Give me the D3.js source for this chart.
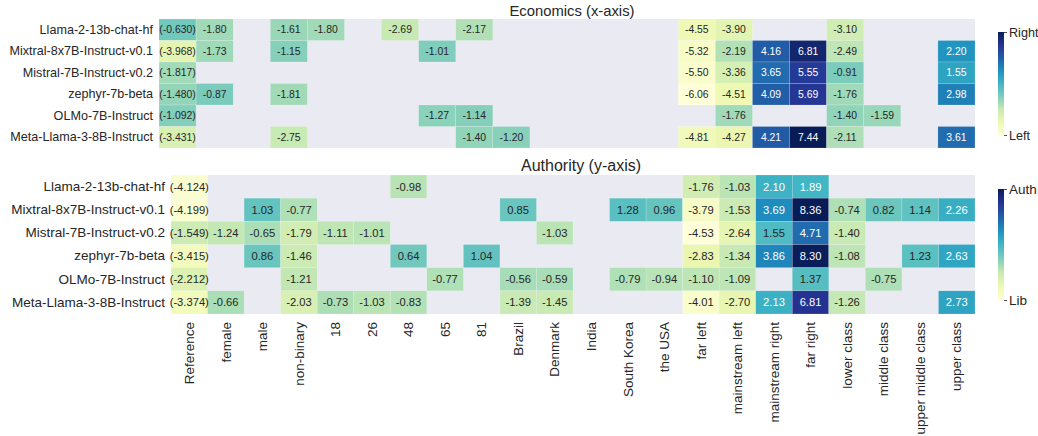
<!DOCTYPE html>
<html><head><meta charset="utf-8">
<script src="https://cdn.jsdelivr.net/npm/d3@7"></script>
<style>body{margin:0;background:#fff}svg{display:block}text{font-family:"Liberation Sans",Arial,sans-serif}</style>
</head><body><svg id="c" width="1038" height="436"></svg>
<script>
const columns = ["Reference","female","male","non-binary","18","26","48","65","81","Brazil","Denmark","India","South Korea","the USA","far left","mainstream left","mainstream right","far right","lower class","middle class","upper middle class","upper class"];
const models = ["Llama-2-13b-chat-hf","Mixtral-8x7B-Instruct-v0.1","Mistral-7B-Instruct-v0.2","zephyr-7b-beta","OLMo-7B-Instruct","Meta-Llama-3-8B-Instruct"];
const _ = null;
const economics = [
 [-0.630,-1.80,_,-1.61,-1.80,_,-2.69,_,-2.17,_,_,_,_,_,-4.55,-3.90,_,_,-3.10,_,_,_],
 [-3.968,-1.73,_,-1.15,_,_,_,-1.01,_,_,_,_,_,_,-5.32,-2.19,4.16,6.81,-2.49,_,_,2.20],
 [-1.817,_,_,_,_,_,_,_,_,_,_,_,_,_,-5.50,-3.36,3.65,5.55,-0.91,_,_,1.55],
 [-1.480,-0.87,_,-1.81,_,_,_,_,_,_,_,_,_,_,-6.06,-4.51,4.09,5.69,-1.76,_,_,2.98],
 [-1.092,_,_,_,_,_,_,-1.27,-1.14,_,_,_,_,_,_,-1.76,_,_,-1.40,-1.59,_,_],
 [-3.431,_,_,-2.75,_,_,_,_,-1.40,-1.20,_,_,_,_,-4.81,-4.27,4.21,7.44,-2.11,_,_,3.61]
];
const authority = [
 [-4.124,_,_,_,_,_,-0.98,_,_,_,_,_,_,_,-1.76,-1.03,2.10,1.89,_,_,_,_],
 [-4.199,_,1.03,-0.77,_,_,_,_,_,0.85,_,_,1.28,0.96,-3.79,-1.53,3.69,8.36,-0.74,0.82,1.14,2.26],
 [-1.549,-1.24,-0.65,-1.79,-1.11,-1.01,_,_,_,_,-1.03,_,_,_,-4.53,-2.64,1.55,4.71,-1.40,_,_,_],
 [-3.415,_,0.86,-1.46,_,_,0.64,_,1.04,_,_,_,_,_,-2.83,-1.34,3.86,8.30,-1.08,_,1.23,2.63],
 [-2.212,_,_,-1.21,_,_,_,-0.77,_,-0.56,-0.59,_,-0.79,-0.94,-1.10,-1.09,_,1.37,_,-0.75,_,_],
 [-3.374,-0.66,_,-2.03,-0.73,-1.03,-0.83,_,_,-1.39,-1.45,_,_,_,-4.01,-2.70,2.13,6.81,-1.26,_,_,2.73]
];
const panels = [
 {title:"Economics (x-axis)", data:economics, hi:"Right", lo:"Left"},
 {title:"Authority (y-axis)", data:authority, hi:"Auth", lo:"Lib"}
];
const layout = [
 {x0:159,x1:975,y0:19,y1:148,fs:12.6,cs:10.4,tx:572,ty:16,ts:14.8,cb:[32,135],cbl:1008,xlabels:false},
 {x0:171,x1:975,y0:175,y1:314,fs:13.5,cs:11.2,tx:581,ty:171,ts:16,cb:[189,300],cbl:1011,xlabels:true}
];
const ylgnbu = ["#ffffd9","#edf8b1","#c7e9b4","#7fcdbb","#41b6c4","#1d91c0","#225ea8","#253494","#081d58"];
const svg = d3.select("#c");
const txtCol = "#262626";
function lum(c){const r=d3.rgb(c);const f=v=>{v/=255;return v<=0.03928?v/12.92:Math.pow((v+0.055)/1.055,2.4)};return 0.2126*f(r.r)+0.7152*f(r.g)+0.0722*f(r.b);}

panels.forEach((p,pi)=>{
 const L = layout[pi];
 const g = svg.append("g");
 const x = d3.scaleBand().domain(columns).range([L.x0,L.x1]);
 const y = d3.scaleBand().domain(models).range([L.y0,L.y1]);
 const vals = p.data.flat().filter(v=>v!==null);
 const vmin = d3.min(vals), vmax = d3.max(vals);
 const dom = ylgnbu.map((c,i)=>vmin+(vmax-vmin)*i/(ylgnbu.length-1));
 const color = d3.scaleLinear().domain(dom).range(ylgnbu).interpolate(d3.interpolateRgb).clamp(true);
 g.append("rect").attr("x",L.x0).attr("y",L.y0).attr("width",L.x1-L.x0).attr("height",L.y1-L.y0).attr("fill","#eaeaf2");
 const cells=[];
 p.data.forEach((row,ri)=>row.forEach((v,ci)=>{if(v!==null)cells.push({m:models[ri],c:columns[ci],v,ci});}));
 g.selectAll("rect.cell").data(cells).join("rect").attr("class","cell")
  .attr("x",d=>x(d.c)).attr("y",d=>y(d.m)).attr("width",x.bandwidth()).attr("height",y.bandwidth())
  .attr("fill",d=>color(d.v)).attr("stroke","#ffffff").attr("stroke-opacity",0.35).attr("stroke-width",0.5);
 g.selectAll("text.val").data(cells).join("text").attr("class","val")
  .attr("x",d=>x(d.c)+x.bandwidth()/2).attr("y",d=>y(d.m)+y.bandwidth()/2)
  .attr("dy","0.36em").attr("text-anchor","middle").attr("font-size",L.cs)
  .attr("fill",d=>lum(color(d.v))>0.408?txtCol:"#ffffff")
  .text(d=>d.ci===0?"("+d.v.toFixed(3)+")":d.v.toFixed(2));
 // y axis labels
 const ya = d3.axisLeft(y).tickSize(0).tickPadding(6);
 const yg = g.append("g").attr("transform",`translate(${L.x0},0)`).call(ya);
 yg.select(".domain").remove();
 yg.selectAll("text").attr("font-size",L.fs).attr("fill",txtCol).attr("font-family",'"Liberation Sans",Arial,sans-serif');
 if(L.xlabels){
  const xa = d3.axisBottom(x).tickSize(0).tickPadding(8);
  const xg = g.append("g").attr("transform",`translate(0,${L.y1})`).call(xa);
  xg.select(".domain").remove();
  xg.selectAll("text").attr("font-size",L.fs).attr("fill",txtCol).attr("font-family",'"Liberation Sans",Arial,sans-serif')
   .attr("text-anchor","end").attr("transform","rotate(-90)").attr("x",-8).attr("y",0).attr("dy","0.35em");
 }
 g.append("text").attr("x",L.tx).attr("y",L.ty).attr("text-anchor","middle").attr("font-size",L.ts).attr("fill",txtCol).text(p.title);
 // colorbar
 const defs = svg.append("defs");
 const gid = "grad"+pi;
 const lg = defs.append("linearGradient").attr("id",gid).attr("x1",0).attr("y1",1).attr("x2",0).attr("y2",0);
 ylgnbu.forEach((c,i)=>lg.append("stop").attr("offset",(i/(ylgnbu.length-1)*100)+"%").attr("stop-color",c));
 const cy = d3.scaleLinear().domain([vmin,vmax]).range([L.cb[1],L.cb[0]]);
 g.append("rect").attr("x",998).attr("y",L.cb[0]).attr("width",6).attr("height",L.cb[1]-L.cb[0]).attr("fill",`url(#${gid})`);
 const ca = d3.axisRight(cy).tickValues([vmax,vmin]).tickSize(3).tickPadding(2).tickFormat((d,i)=>i===0?p.hi:p.lo);
 const cg = g.append("g").attr("transform","translate(1004,0)").call(ca);
 cg.select(".domain").remove();
 cg.selectAll("line").attr("stroke",txtCol).attr("stroke-width",0.8);
 cg.selectAll("text").attr("font-size",L.fs).attr("fill",txtCol).attr("font-family",'"Liberation Sans",Arial,sans-serif');
});
</script></body></html>
